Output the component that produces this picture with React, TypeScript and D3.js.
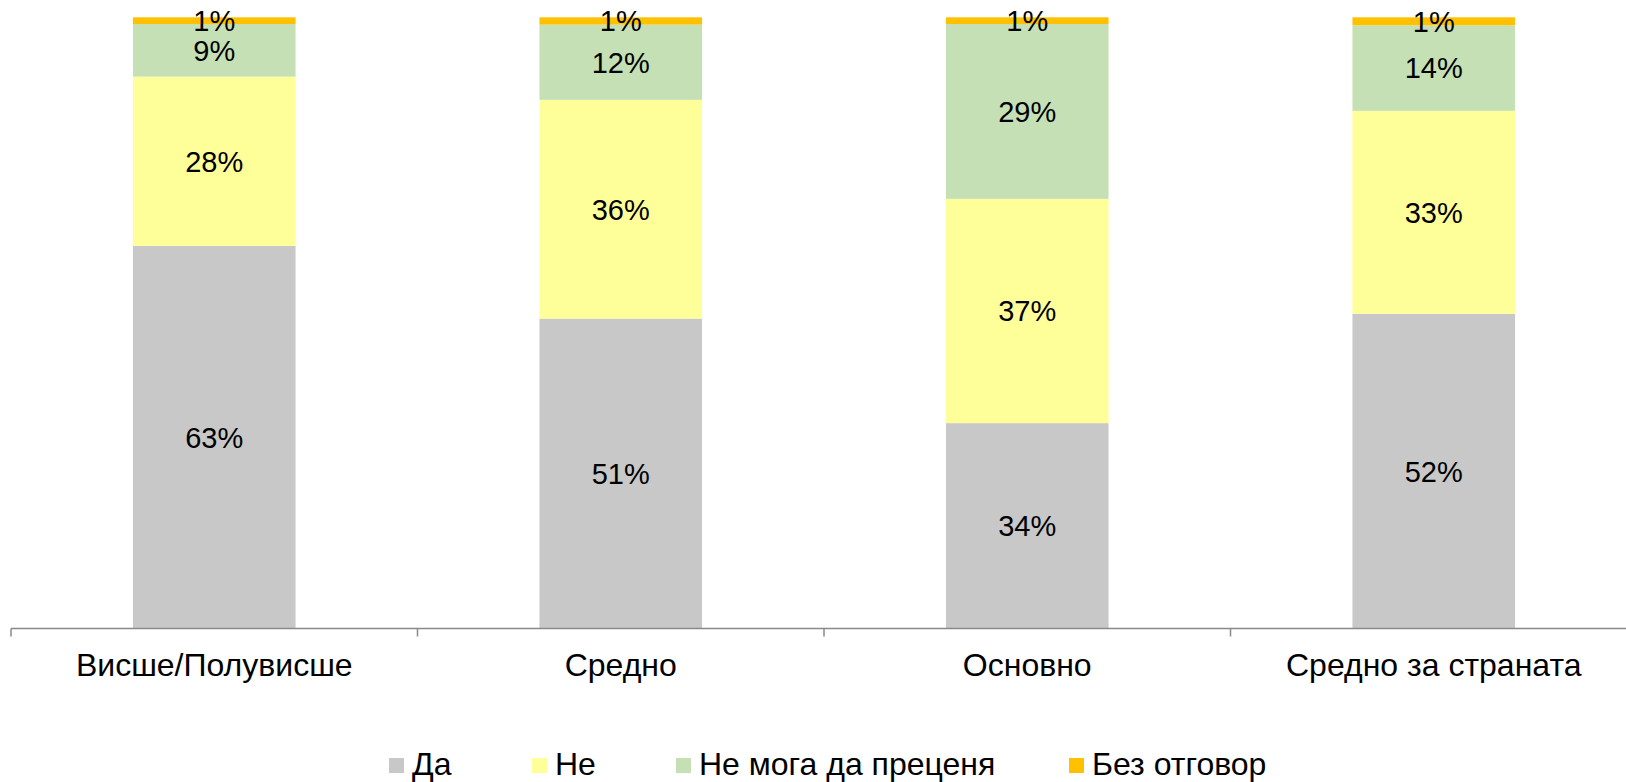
import React from "react";
import * as d3 from "d3";

const categories = ["Висше/Полувисше", "Средно", "Основно", "Средно за страната"];
const seriesNames = ["Да", "Не", "Не мога да преценя", "Без отговор"];
const da = [0.626, 0.507, 0.336, 0.515];
const ne = [0.277, 0.358, 0.367, 0.332];
const neMoga = [0.086, 0.123, 0.286, 0.140];
const bezOtgovor = [0.011, 0.012, 0.011, 0.013];
const colors = ["#C8C8C8", "#FFFF99", "#C5E0B4", "#FFC000"];

const W = 1626;
const H = 782;
const FONT = "'Liberation Sans', Arial, sans-serif";

export default function App() {
  const series = [da, ne, neMoga, bezOtgovor];
  const rows = categories.map((c, i) => {
    const o: any = { cat: c };
    seriesNames.forEach((s, j) => (o[s] = series[j][i]));
    return o;
  });
  const stacked = d3.stack().keys(seriesNames)(rows);

  const x0 = 11;
  const x = d3
    .scaleBand()
    .domain(categories)
    .range([x0, x0 + 4 * 406.5])
    .paddingInner(0.6)
    .paddingOuter(0.3);
  const y = d3.scaleLinear().domain([0, 1]).range([628.5, 17.3]);
  const step = x.step();
  const fmt = d3.format(".0%");

  const legendX = [389, 532, 676, 1069];

  return (
    <svg
      width={W}
      height={H}
      style={{ position: "absolute", left: 0, top: 0, background: "#fff" }}
      fontFamily={FONT}
    >
      {stacked.map((layer, j) => (
        <g key={j} fill={colors[j]}>
          {layer.map((d, i) => (
            <rect
              key={i}
              x={x(categories[i])}
              y={y(d[1])}
              width={x.bandwidth()}
              height={y(d[0]) - y(d[1])}
            />
          ))}
        </g>
      ))}
      {stacked.map((layer, j) => (
        <g key={"l" + j} fontSize={29} fill="#000" textAnchor="middle">
          {layer.map((d, i) => (
            <text
              key={i}
              x={(x(categories[i]) as number) + x.bandwidth() / 2}
              y={(y(d[0]) + y(d[1])) / 2}
              dy="0.36em"
            >
              {fmt(d[1] - d[0])}
            </text>
          ))}
        </g>
      ))}
      <g stroke="#898989" strokeWidth={1.5}>
        <line x1={x0} x2={W} y1={y(0)} y2={y(0)} />
        {d3.range(categories.length + 1).map((k) => (
          <line
            key={k}
            x1={x0 + k * step}
            x2={x0 + k * step}
            y1={y(0)}
            y2={y(0) + 8}
          />
        ))}
      </g>
      <g fontSize={32} textAnchor="middle" fill="#000">
        {categories.map((c) => (
          <text key={c} x={(x(c) as number) + x.bandwidth() / 2} y={676}>
            {c}
          </text>
        ))}
      </g>
      <g fontSize={32} fill="#000">
        {seriesNames.map((s, j) => (
          <g key={s}>
            <rect x={legendX[j]} y={758} width={15} height={15} fill={colors[j]} />
            <text x={legendX[j] + 23} y={775}>
              {s}
            </text>
          </g>
        ))}
      </g>
    </svg>
  );
}
